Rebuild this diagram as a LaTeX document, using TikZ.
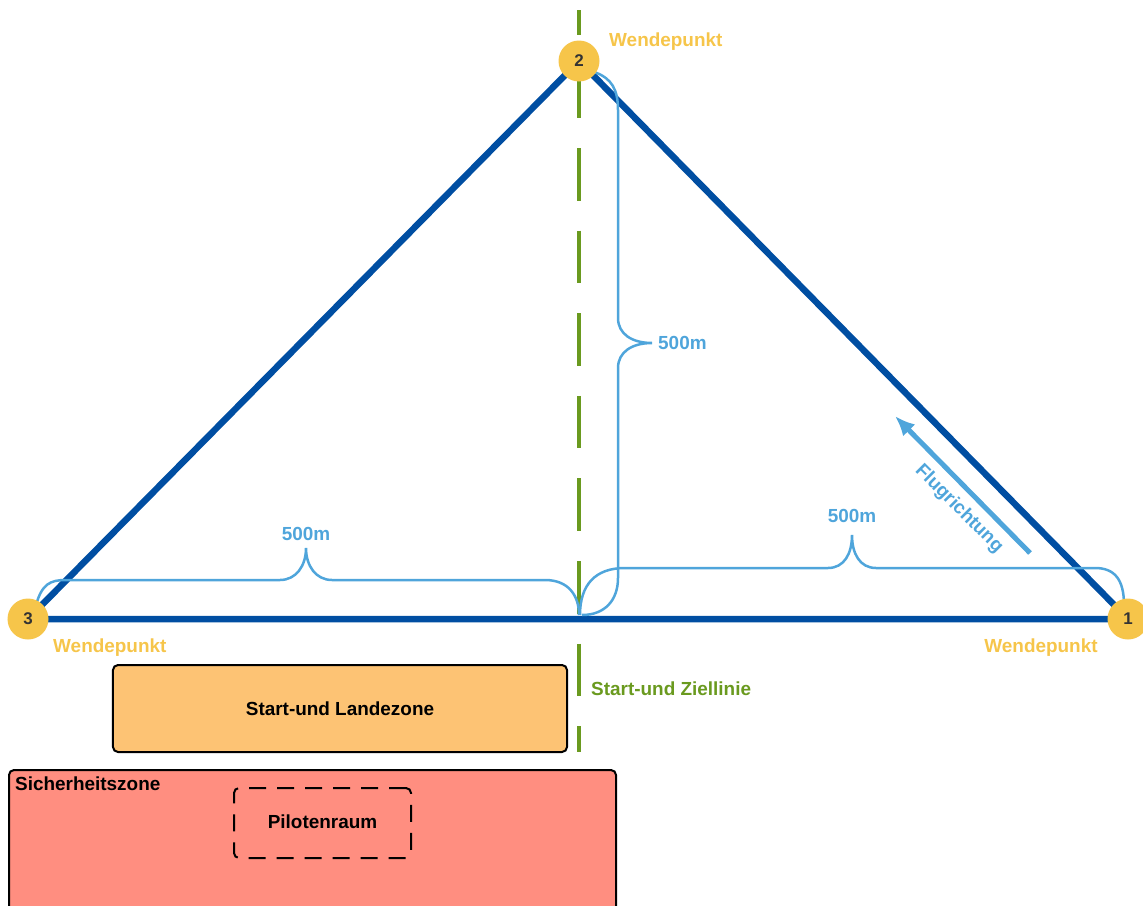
\documentclass[tikz,border=0pt]{standalone}
\usepackage{fontspec}
\setmainfont{Liberation Sans}
\usetikzlibrary{arrows.meta, positioning, calc}
\definecolor{route_blue}{HTML}{004EA2}
\definecolor{brace_blue}{HTML}{4FA5DB}
\definecolor{line_green}{HTML}{6A9A1F}
\definecolor{turn_yellow}{HTML}{F6C54A}
\definecolor{zone_orange}{HTML}{FDC374}
\definecolor{zone_red}{HTML}{FF8E80}
\tikzset{
  turnpoint/.style={circle,fill=turn_yellow,minimum size=41bp,inner sep=0,text=black!80,font=\bfseries\fontsize{17}{19}\selectfont},
  txt/.style={inner sep=0,font=\bfseries\fontsize{19}{22}\selectfont},
  turnlabel/.style={txt,text=turn_yellow},
  distlabel/.style={txt,text=brace_blue},
  leg/.style={route_blue,line width=6.5bp},
  finishline/.style={line_green,line width=4bp,dash pattern=on 52.6bp off 30bp,dash phase=27.2bp},
  distbrace/.style={brace_blue,line width=2.5bp},
  flightdir/.style={brace_blue,line width=5bp,-{Latex[length=20bp,width=17bp]}},
  zone/.style={draw=black,line width=2bp,rounded corners=5bp},
}
\pgfdeclarelayer{back}
\pgfsetlayers{back,main}

\begin{document}
\begin{tikzpicture}[x=1bp,y=-1bp]
	    \useasboundingbox (0,0) rectangle (1143,906);
	    \node[turnpoint] (n1) at (1128,619) {1};
	    \node[turnpoint] (n2) at (579,61) {2};
	    \node[turnpoint] (n3) at (28,619) {3};
	    \coordinate (goaltop) at (579,10);
	    \coordinate (goalbot) at (579,752);
	    \begin{pgfonlayer}{back}
	    	\draw[finishline] (goaltop) -- (goalbot);
	    	\draw[leg] (n3.center) -- (n2.center) -- (n1.center) -- cycle;
	    	\draw[distbrace] (36,605) .. controls (42,584) and (50,580) .. (66,580) -- (280,580)
	    		.. controls (296,580) and (306,566) .. (306,548) .. controls (306,566) and (316,580) .. (332,580)
	    		-- (545,580) .. controls (568,580) and (579,595) .. (579,615);
	    	\draw[distbrace] (580,615) .. controls (580,585) and (595,568) .. (625,568) -- (828,568)
	    		.. controls (844,568) and (852,554) .. (852,535) .. controls (852,554) and (860,568) .. (876,568)
	    		-- (1095,568) .. controls (1115,568) and (1124,580) .. (1124,605);
	    	\draw[distbrace] (594,72) .. controls (612,78) and (618,90) .. (618,110) -- (618,318)
	    		.. controls (618,334) and (632,343) .. (652,343) .. controls (632,343) and (618,352) .. (618,368)
	    		-- (618,578) .. controls (618,600) and (605,615) .. (582,615);
	    \end{pgfonlayer}
	    \node[turnlabel,anchor=west] (w2) at (609,41.5) {Wendepunkt};
	    \node[turnlabel,anchor=west] (w3) at (53,647.5) {Wendepunkt};
	    \node[turnlabel] (w1) at (1041,647.5) {Wendepunkt};
	    \node[distlabel] (d1) at (306,534) {500m};
	    \node[distlabel] (d2) at (852,516) {500m};
	    \node[distlabel,anchor=west] (d3) at (658,343) {500m};
	    \coordinate (dirstart) at (1030,553);
	    \coordinate (dirend) at (895,416);
	    \draw[flightdir] (dirstart) -- (dirend);
	    \node[distlabel,rotate=-45] (dir) at (959,509) {Flugrichtung};
	    \node[txt,text=line_green,anchor=west] (goal) at (591,689) {Start-und Ziellinie};
	    \node[zone,fill=zone_orange,minimum width=454bp,minimum height=87bp,txt] (landing) at (340,708.5) {Start-und Landezone};
	    \draw[zone,fill=zone_red] (9,920) -- (9,770) -- (616,770) -- (616,920);
	    \node[txt,anchor=west] (safety) at (15,784) {Sicherheitszone};
	    \node[zone,dashed,dash pattern=on 17bp off 11bp,minimum width=177bp,minimum height=70bp,txt] (pilots) at (322.5,823) {};
	    \node[txt] (pilotstext) at (322.5,822) {Pilotenraum};
	\end{tikzpicture}
\end{document}
